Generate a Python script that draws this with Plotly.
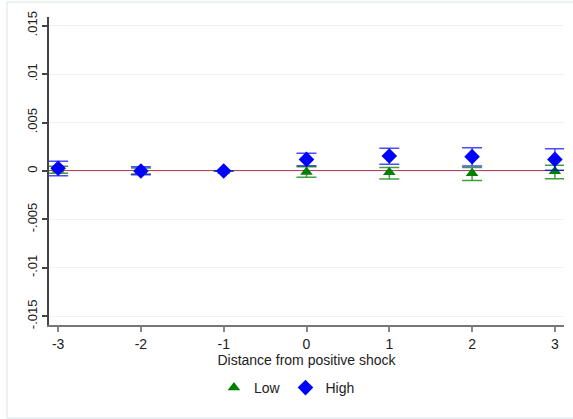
import plotly.graph_objects as go

x_vals = [-3, -2, -1, 0, 1, 2, 3]

high = [0.00028, 0.0, 0.0, 0.0012, 0.00155, 0.00148, 0.0012]
high_lo = [-0.0005, -0.0004, 0.0, 0.00055, 0.0007, 0.00052, 0.00007]
high_hi = [0.001, 0.00045, 0.0, 0.00183, 0.00235, 0.0024, 0.0023]

low = [0.00013, 0.0, 0.0, -0.0001, -0.00013, -0.00024, -0.00003]
low_lo = [-0.00024, -0.0003, 0.0, -0.00065, -0.00083, -0.00097, -0.0008]
low_hi = [0.0005, 0.0003, 0.0, 0.00045, 0.00035, 0.00035, 0.0006]

y_tickvals = [-0.015, -0.01, -0.005, 0, 0.005, 0.01, 0.015]
y_ticktext = ["-.015", "-.01", "-.005", "0", ".005", ".01", ".015"]
x_tickvals = [-3, -2, -1, 0, 1, 2, 3]
x_ticktext = ["-3", "-2", "-1", "0", "1", "2", "3"]

FONT = "Liberation Sans, Arial, sans-serif"

fig = go.Figure()

fig.add_trace(go.Scatter(
    x=x_vals, y=low, mode="markers", name="Low",
    marker=dict(symbol="triangle-up", size=11, color="#008000"),
    error_y=dict(type="data", symmetric=False,
                 array=[h - v for h, v in zip(low_hi, low)],
                 arrayminus=[v - l for v, l in zip(low, low_lo)],
                 color="rgba(0,128,0,0.75)", thickness=1.5, width=10),
))
fig.add_trace(go.Scatter(
    x=x_vals, y=high, mode="markers", name="High",
    marker=dict(symbol="diamond", size=12, color="#0000ff"),
    error_y=dict(type="data", symmetric=False,
                 array=[h - v for h, v in zip(high_hi, high)],
                 arrayminus=[v - l for v, l in zip(high, high_lo)],
                 color="rgba(0,0,255,0.7)", thickness=1.5, width=10),
))

shapes = [
    dict(type="line", xref="paper", x0=0, x1=1, yref="y", y0=0, y1=0,
         line=dict(color="#c23b55", width=2), layer="below"),
    dict(type="rect", xref="paper", yref="paper", x0=-0.0816, x1=1.03,
         y0=-0.302, y1=1.0487, line=dict(color="#e4eeef", width=1.5)),
]

fig.update_layout(
    width=573, height=419,
    margin=dict(l=49, r=9, t=17, b=94),
    paper_bgcolor="white", plot_bgcolor="white",
    font=dict(family=FONT, size=14, color="#222222"),
    shapes=shapes,
    showlegend=True,
    legend=dict(orientation="h", x=0.462, xanchor="center", y=-0.2045,
                yanchor="middle", font=dict(size=14),
                bgcolor="rgba(0,0,0,0)"),
    xaxis=dict(range=[-3.11, 3.11], tickvals=x_tickvals, ticktext=x_ticktext,
               showgrid=False, automargin=False,
               zeroline=False, showline=True, linecolor="#777777", linewidth=1.5,
               ticks="outside", ticklen=5, tickcolor="#888888", tickwidth=1.5,
               tickfont=dict(size=14),
               title=dict(text="Distance from positive shock", standoff=2,
                          font=dict(size=14))),
    yaxis=dict(range=[-0.0159, 0.0159], tickvals=y_tickvals, ticktext=y_ticktext,
               tickangle=-90, showgrid=True, gridcolor="#eaf2f3", gridwidth=1,
               automargin=False,
               zeroline=False, showline=True, linecolor="#444444", linewidth=1.5,
               ticks="outside", ticklen=5, tickcolor="#444444", tickwidth=1.5,
               tickfont=dict(size=13)),
)

fig.write_html("out.html", config={"displayModeBar": False},
               post_script="document.body.style.margin='0';document.body.style.overflow='hidden';")
